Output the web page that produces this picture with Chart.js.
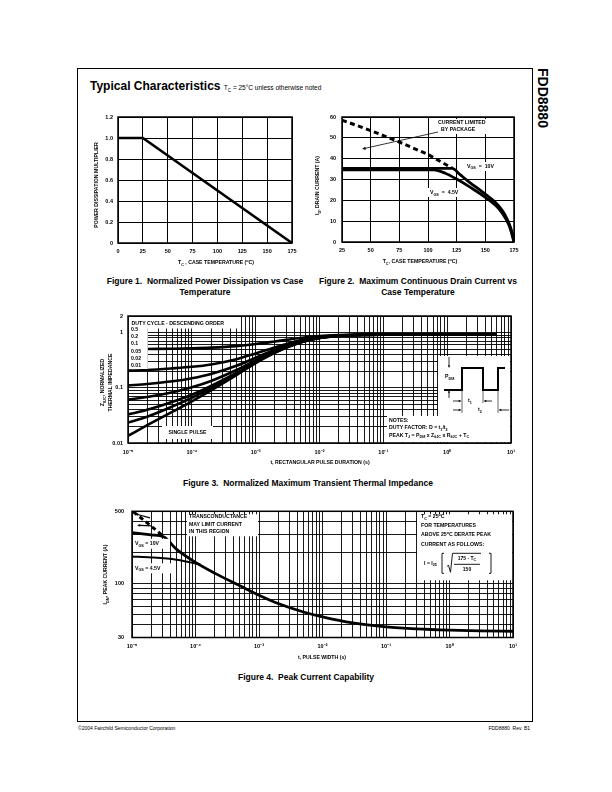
<!DOCTYPE html>
<html>
<head>
<meta charset="utf-8">
<script src="https://cdn.jsdelivr.net/npm/chart.js@4.4.1/dist/chart.umd.min.js"></script>
<style>
body { margin: 0; background: #fff; color: #000; font-family: "Liberation Sans", Arial, sans-serif; }
#page { position: relative; width: 612px; height: 792px; overflow: hidden; }
canvas { position: absolute; }
.cap { position: absolute; font-weight: bold; font-size: 8.5px; line-height: 11px; text-align: center; white-space: nowrap; }
</style>
</head>
<body>
<div id="page">
  <div style="position:absolute;left:77px;top:68px;width:454px;height:652px;border:1px solid #000"></div>
  <div style="position:absolute;left:90px;top:79px;font-weight:bold;font-size:12px;line-height:14px;white-space:nowrap">Typical Characteristics <span style="font-weight:normal;font-size:6.5px">T<sub style="font-size:4.5px">C</sub> = 25°C unless otherwise noted</span></div>
  <div style="position:absolute;left:535px;top:68px;writing-mode:vertical-rl;font-weight:bold;font-size:14px;line-height:16px">FDD8880</div>

  <canvas id="fig1"></canvas>
  <canvas id="fig2"></canvas>
  <canvas id="fig3"></canvas>
  <canvas id="fig4"></canvas>

  <div class="cap" style="left:100px;top:276px;width:210px">Figure 1.&nbsp; Normalized Power Dissipation vs Case<br>Temperature</div>
  <div class="cap" style="left:313px;top:276px;width:210px">Figure 2.&nbsp; Maximum Continuous Drain Current vs<br>Case Temperature</div>
  <div class="cap" style="left:158px;top:478px;width:300px">Figure 3.&nbsp; Normalized Maximum Transient Thermal Impedance</div>
  <div class="cap" style="left:206px;top:672px;width:200px">Figure 4.&nbsp; Peak Current Capability</div>

  <div style="position:absolute;left:78px;top:725px;font-size:5px">©2004 Fairchild Semiconductor Corporation</div>
  <div style="position:absolute;right:82px;top:725px;font-size:5px">FDD8880&nbsp; Rev. B1</div>
</div>
<script>
const FONT = '"Liberation Sans", Arial, sans-serif';

// Figure 1 - normalized power dissipation
const fig1Temp = [0, 25, 175];
const fig1Mult = [1.0, 1.0, 0];
const fig1XLabels = ['0', '25', '50', '75', '100', '125', '150', '175'];
const fig1YLabels = ['0', '0.2', '0.4', '0.6', '0.8', '1.0', '1.2'];

// Figure 2 - max continuous drain current
const fig2TempPkg = [25, 50, 75, 100, 121];
const fig2IdPkg = [58.5, 53.5, 48, 42, 35.5];
const fig2Temp10 = [25, 121, 128, 134, 148, 158, 165, 169, 172, 174, 175];
const fig2Id10 = [35.3, 35.3, 32.3, 29.6, 23.8, 19.4, 15, 11, 7, 3, 0];
const fig2Temp45 = [25, 105, 115, 125, 137, 151, 162, 168, 171, 173.5, 175];
const fig2Id45 = [34.6, 34.6, 33, 30.2, 26.2, 21, 15.8, 11, 7.5, 3, 0];
const fig2XLabels = ['25', '50', '75', '100', '125', '150', '175'];
const fig2YLabels = ['0', '10', '20', '30', '40', '50', '60'];

// Figure 3 - transient thermal impedance
const fig3Time = [1e-5, 2e-5, 5e-5, 1e-4, 2e-4, 5e-4, 1e-3, 2e-3, 5e-3, 1e-2, 2e-2, 5e-2, 1e-1, 1, 6];
const fig3Z050 = [0.50, 0.505, 0.51, 0.52, 0.535, 0.57, 0.62, 0.69, 0.80, 0.87, 0.905, 0.92, 0.925, 0.93, 0.93];
const fig3Z020 = [0.205, 0.21, 0.225, 0.24, 0.265, 0.33, 0.42, 0.54, 0.73, 0.84, 0.89, 0.915, 0.925, 0.93, 0.93];
const fig3Z010 = [0.11, 0.117, 0.131, 0.149, 0.178, 0.25, 0.35, 0.49, 0.70, 0.82, 0.88, 0.915, 0.92, 0.93, 0.93];
const fig3Z005 = [0.061, 0.068, 0.083, 0.102, 0.133, 0.21, 0.315, 0.46, 0.68, 0.81, 0.875, 0.91, 0.92, 0.93, 0.93];
const fig3Z002 = [0.033, 0.04, 0.056, 0.075, 0.108, 0.186, 0.295, 0.44, 0.67, 0.80, 0.87, 0.91, 0.92, 0.93, 0.93];
const fig3Z001 = [0.0235, 0.03, 0.046, 0.066, 0.099, 0.178, 0.29, 0.44, 0.665, 0.80, 0.87, 0.91, 0.92, 0.93, 0.93];
const fig3Zsp = [0.0135, 0.021, 0.037, 0.057, 0.09, 0.17, 0.28, 0.43, 0.66, 0.80, 0.87, 0.91, 0.92, 0.93, 0.93];
const fig3Duty = ['0.5', '0.2', '0.1', '0.05', '0.02', '0.01'];
const fig3XMajor = [1e-5, 1e-4, 1e-3, 1e-2, 1e-1, 1, 10];
const fig3XLabels = ['10⁻⁵', '10⁻⁴', '10⁻³', '10⁻²', '10⁻¹', '10⁰', '10¹'];
const fig3YMajor = [0.01, 0.1, 1, 2];
const fig3YLabels = ['0.01', '0.1', '1', '2'];

// Figure 4 - peak current capability
const fig4TimeDash = [1.05e-5, 2e-5, 3.2e-5];
const fig4IdmDash = [495, 360, 282];
const fig4Time10 = [1e-5, 2e-5, 3.2e-5, 5e-5, 1e-4, 2e-4, 5e-4, 1e-3, 2e-3, 5e-3, 1e-2, 3e-2, 1e-1, 3e-1, 1, 3, 10];
const fig4Idm10 = [310, 296, 282, 215, 160, 126, 95, 77, 64, 53, 47.5, 41.5, 38, 36.3, 35.3, 34.8, 34.5];
const fig4Time45 = [1e-5, 2e-5, 5e-5, 8e-5, 1.2e-4];
const fig4Idm45 = [183, 179, 170, 161, 152];
const fig4XMajor = [1e-5, 1e-4, 1e-3, 1e-2, 1e-1, 1, 10];
const fig4XLabels = ['10⁻⁵', '10⁻⁴', '10⁻³', '10⁻²', '10⁻¹', '10⁰', '10¹'];
const fig4YMajor = [30, 100, 500];
const fig4YLabels = ['30', '100', '500'];

// text with _{sub} and ^{sup}
function parseRich(s) {
  const parts = [];
  const re = /([_^])\{([^}]*)\}|([^_^]+)/g;
  let m;
  while ((m = re.exec(s))) {
    if (m[3]) parts.push([m[3], 0]);
    else parts.push([m[2], m[1] === '_' ? 1 : -1]);
  }
  return parts;
}

function rich(ctx, s, x, y, size, align, rot) {
  const parts = parseRich(s);
  ctx.save();
  ctx.translate(x, y);
  if (rot) ctx.rotate(rot);
  ctx.fillStyle = '#000';
  ctx.textBaseline = 'middle';
  ctx.textAlign = 'left';
  const fonts = parts.map(p => 'bold ' + (p[1] ? size * 0.72 : size) + 'px ' + FONT);
  const ws = parts.map((p, i) => { ctx.font = fonts[i]; return ctx.measureText(p[0]).width; });
  const tot = ws.reduce((a, b) => a + b, 0);
  let cx = align === 'center' ? -tot / 2 : align === 'right' ? -tot : 0;
  parts.forEach((p, i) => {
    ctx.font = fonts[i];
    ctx.fillText(p[0], cx, p[1] * size * 0.32);
    cx += ws[i];
  });
  ctx.restore();
}

function wbox(ctx, x, y, w, h) {
  ctx.fillStyle = '#fff';
  ctx.fillRect(x, y, w, h);
}

function arrow(ctx, x1, y1, x2, y2, head, lw) {
  const ang = Math.atan2(y2 - y1, x2 - x1);
  ctx.save();
  ctx.strokeStyle = '#000';
  ctx.fillStyle = '#000';
  ctx.lineWidth = lw || 0.8;
  ctx.beginPath();
  ctx.moveTo(x1, y1);
  ctx.lineTo(x2 - Math.cos(ang) * head * 0.8, y2 - Math.sin(ang) * head * 0.8);
  ctx.stroke();
  ctx.beginPath();
  ctx.moveTo(x2, y2);
  ctx.lineTo(x2 - head * Math.cos(ang - 0.4), y2 - head * Math.sin(ang - 0.4));
  ctx.lineTo(x2 - head * Math.cos(ang + 0.4), y2 - head * Math.sin(ang + 0.4));
  ctx.closePath();
  ctx.fill();
  ctx.restore();
}

function frame(ctx, a) {
  ctx.save();
  ctx.strokeStyle = '#000';
  ctx.lineWidth = 1.5;
  ctx.strokeRect(a.left, a.top, a.right - a.left, a.bottom - a.top);
  ctx.restore();
}

function pts(xs, ys) {
  return xs.map((x, i) => ({ x: x, y: ys[i] }));
}

function line(xs, ys, width, dash, smooth) {
  return {
    data: pts(xs, ys),
    showLine: true,
    borderColor: '#000',
    borderWidth: width,
    borderDash: dash || [],
    pointRadius: 0,
    fill: false,
    tension: 0,
    cubicInterpolationMode: smooth ? 'monotone' : 'default'
  };
}

function tickFont() {
  return { family: FONT, size: 5.5, weight: 'bold' };
}

function linAxis(min, max, step, labels, pad) {
  return {
    type: 'linear', min: min, max: max,
    grid: { color: '#000', lineWidth: 1, drawTicks: false },
    border: { display: false },
    ticks: {
      stepSize: step, autoSkip: false, maxRotation: 0, padding: pad,
      color: '#000', font: tickFont(),
      callback: (v, i) => labels[i]
    }
  };
}

function logTicks(min, max) {
  const out = [];
  for (let e = Math.floor(Math.log10(min)); e <= Math.ceil(Math.log10(max)); e++) {
    for (let m = 1; m < 10; m++) {
      const v = m * Math.pow(10, e);
      if (v >= min * 0.999 && v <= max * 1.001) out.push(v);
    }
  }
  return out;
}

function logAxis(min, max, major, labels, pad) {
  const all = logTicks(min, max);
  return {
    type: 'logarithmic', min: min, max: max,
    afterBuildTicks: s => { s.ticks = all.map(v => ({ value: v })); },
    grid: { color: '#000', lineWidth: 0.9, drawTicks: false },
    border: { display: false },
    ticks: {
      autoSkip: false, maxRotation: 0, minRotation: 0, padding: pad,
      color: '#000', font: tickFont(),
      callback: v => {
        const i = major.findIndex(m => Math.abs(m - v) / m < 1e-6);
        return i < 0 ? '' : labels[i];
      }
    }
  };
}

function makeChart(id, box, xScale, yScale, datasets, deco) {
  const cv = document.getElementById(id);
  cv.width = box.w;
  cv.height = box.h;
  cv.style.left = box.x + 'px';
  cv.style.top = box.y + 'px';
  cv.style.width = box.w + 'px';
  cv.style.height = box.h + 'px';
  xScale.afterFit = s => { s.height = box.xH; };
  yScale.afterFit = s => { s.width = box.yW; };
  return new Chart(cv, {
    type: 'scatter',
    data: { datasets: datasets },
    options: {
      responsive: false,
      animation: false,
      events: [],
      layout: { padding: { top: box.pt, right: box.pr, left: 0, bottom: 0 } },
      plugins: { legend: { display: false }, tooltip: { enabled: false } },
      scales: { x: xScale, y: yScale }
    },
    plugins: [{
      id: 'deco',
      afterDatasetsDraw(chart) {
        deco(chart.ctx, chart.chartArea);
        frame(chart.ctx, chart.chartArea);
      }
    }]
  });
}

// ---------- Figure 1
makeChart('fig1',
  { x: 85, y: 105, w: 225, h: 170, pt: 12, pr: 18, yW: 33, xH: 32 },
  linAxis(0, 175, 25, fig1XLabels, 5),
  linAxis(0, 1.2, 0.2, fig1YLabels, 5),
  [line(fig1Temp, fig1Mult, 2.6)],
  (ctx, a) => {
    const L = a.left, T = a.top, B = a.bottom;
    rich(ctx, 'POWER DISSIPATION MULTIPLIER', L - 21, (T + B) / 2 + 5, 5.2, 'center', -Math.PI / 2);
    rich(ctx, 'T_{C} , CASE TEMPERATURE (^{o}C)', L + 98, B + 20, 5.2, 'center');
  });

// ---------- Figure 2
makeChart('fig2',
  { x: 312, y: 105, w: 218, h: 170, pt: 12, pr: 16, yW: 30, xH: 33 },
  linAxis(25, 175, 25, fig2XLabels, 5),
  linAxis(0, 60, 10, fig2YLabels, 6),
  [
    line(fig2TempPkg, fig2IdPkg, 3, [5, 3.5]),
    line(fig2Temp10, fig2Id10, 2.8, null, true),
    line(fig2Temp45, fig2Id45, 2.8, null, true)
  ],
  (ctx, a) => {
    const L = a.left, T = a.top, B = a.bottom;
    rich(ctx, 'I_{D}, DRAIN CURRENT (A)', L - 24, (T + B) / 2 + 6, 5.2, 'center', -Math.PI / 2);
    rich(ctx, 'T_{C}, CASE TEMPERATURE (^{o}C)', L + 78, B + 20, 5.2, 'center');
    wbox(ctx, L + 93, T + 2, 60, 15);
    rich(ctx, 'CURRENT LIMITED', L + 96, T + 6, 5.2, 'left');
    rich(ctx, 'BY PACKAGE', L + 99, T + 12.5, 5.2, 'left');
    arrow(ctx, L + 96, T + 15, L + 20, T + 32, 4, 0.8);
    wbox(ctx, L + 123, T + 45, 36, 9);
    rich(ctx, 'V_{GS}  =  10V', L + 125, T + 49.5, 5.2, 'left');
    wbox(ctx, L + 86, T + 71, 38, 9);
    rich(ctx, 'V_{GS}  =  4.5V', L + 88, T + 76, 5.2, 'left');
  });

// ---------- Figure 3
makeChart('fig3',
  { x: 95, y: 306, w: 430, h: 165, pt: 10, pr: 14, yW: 33, xH: 28 },
  logAxis(1e-5, 10, fig3XMajor, fig3XLabels, 6),
  logAxis(0.01, 2, fig3YMajor, fig3YLabels, 5),
  [
    line(fig3Time, fig3Z050, 2.6, null, true),
    line(fig3Time, fig3Z020, 2.6, null, true),
    line(fig3Time, fig3Z010, 2.6, null, true),
    line(fig3Time, fig3Z005, 2.6, null, true),
    line(fig3Time, fig3Z002, 2.6, null, true),
    line(fig3Time, fig3Z001, 2.6, null, true),
    line(fig3Time, fig3Zsp, 2.6, null, true)
  ],
  (ctx, a) => {
    const L = a.left, T = a.top, R = a.right, B = a.bottom;
    rich(ctx, 'Z_{θJC}, NORMALIZED', L - 25, (T + B) / 2 + 3, 5.2, 'center', -Math.PI / 2);
    rich(ctx, 'THERMAL IMPEDANCE', L - 17, (T + B) / 2 + 3, 5.2, 'center', -Math.PI / 2);
    rich(ctx, 't, RECTANGULAR PULSE DURATION (s)', L + 192, B + 20, 5.2, 'center');
    // duty cycle legend
    wbox(ctx, L + 0.8, T + 1, 111, 11.5);
    rich(ctx, 'DUTY CYCLE - DESCENDING ORDER', L + 3.5, T + 8, 5.2, 'left');
    wbox(ctx, L + 0.8, T + 11, 19, 42);
    const ly = [14, 20.7, 27.7, 36, 43, 50];
    fig3Duty.forEach((d, i) => rich(ctx, d, L + 3, T + ly[i], 5.2, 'left'));
    wbox(ctx, L + 34, B - 17, 51, 13);
    rich(ctx, 'SINGLE PULSE', L + 59.5, B - 10, 5.2, 'center');
    // pulse diagram and notes
    wbox(ctx, R - 73, B - 87, 72.2, 60);
    wbox(ctx, R - 124, B - 27, 123.2, 26.2);
    rich(ctx, 'NOTES:', R - 122, B - 22.5, 5.2, 'left');
    rich(ctx, 'DUTY FACTOR: D = t_{1}/t_{2}', R - 122, B - 15, 5.2, 'left');
    rich(ctx, 'PEAK T_{J} = P_{DM} x Z_{θJC} x R_{θJC} + T_{C}', R - 122, B - 7.5, 5.2, 'left');
    const lo = B - 53, hi = B - 75;
    ctx.save();
    ctx.strokeStyle = '#000';
    ctx.lineWidth = 2;
    ctx.beginPath();
    ctx.moveTo(R - 67, lo);
    ctx.lineTo(R - 49, lo);
    ctx.lineTo(R - 49, hi);
    ctx.lineTo(R - 28, hi);
    ctx.lineTo(R - 28, lo);
    ctx.lineTo(R - 13, lo);
    ctx.lineTo(R - 13, hi);
    ctx.lineTo(R - 6, hi);
    ctx.stroke();
    ctx.lineWidth = 0.6;
    ctx.beginPath();
    ctx.moveTo(R - 28, lo); ctx.lineTo(R - 28, B - 40);
    ctx.moveTo(R - 13, lo); ctx.lineTo(R - 13, B - 30);
    ctx.moveTo(R - 49, lo); ctx.lineTo(R - 49, B - 30);
    ctx.stroke();
    ctx.restore();
    rich(ctx, 'P_{DM}', R - 66, B - 66, 5.2, 'left');
    arrow(ctx, R - 62, B - 86, R - 62, hi, 3, 0.8);
    arrow(ctx, R - 62, B - 45, R - 62, lo, 3, 0.8);
    arrow(ctx, R - 58, B - 42, R - 49.5, B - 42, 3, 0.8);
    arrow(ctx, R - 19, B - 42, R - 27.5, B - 42, 3, 0.8);
    rich(ctx, 't_{1}', R - 41, B - 42, 5.2, 'center');
    arrow(ctx, R - 58, B - 33, R - 49.5, B - 33, 3, 0.8);
    arrow(ctx, R - 2, B - 33, R - 12.5, B - 33, 3, 0.8);
    rich(ctx, 't_{2}', R - 31, B - 33, 5.2, 'center');
  });

// ---------- Figure 4
makeChart('fig4',
  { x: 100, y: 500, w: 425, h: 164, pt: 10, pr: 12, yW: 32, xH: 26.5 },
  logAxis(1e-5, 10, fig4XMajor, fig4XLabels, 6),
  logAxis(30, 500, fig4YMajor, fig4YLabels, 8),
  [
    line(fig4TimeDash, fig4IdmDash, 3, [4.5, 3.5]),
    line(fig4Time10, fig4Idm10, 2.8, null, true),
    line(fig4Time45, fig4Idm45, 2, null, true)
  ],
  (ctx, a) => {
    const L = a.left, T = a.top, R = a.right, B = a.bottom;
    rich(ctx, 'I_{DM}, PEAK CURRENT (A)', L - 26, (T + B) / 2, 5.2, 'center', -Math.PI / 2);
    rich(ctx, 't, PULSE WIDTH (s)', L + 190, B + 20.5, 5.2, 'center');
    wbox(ctx, L + 55, T + 3, 71, 22);
    rich(ctx, 'TRANSCONDUCTANCE', L + 57, T + 5.5, 5.2, 'left');
    rich(ctx, 'MAY LIMIT CURRENT', L + 57, T + 13.3, 5.2, 'left');
    rich(ctx, 'IN THIS REGION', L + 57, T + 20.5, 5.2, 'left');
    arrow(ctx, L + 18, T + 6.5, L + 3, T + 2.5, 3.5, 1.2);
    arrow(ctx, L + 20, T + 14.5, L + 5, T + 14, 3.5, 1.2);
    wbox(ctx, L + 1, T + 27.5, 37, 10);
    rich(ctx, 'V_{GS} = 10V', L + 3, T + 32.5, 5.2, 'left');
    wbox(ctx, L + 1, T + 52, 40, 10);
    rich(ctx, 'V_{GS} = 4.5V', L + 3, T + 57, 5.2, 'left');
    // derating note
    wbox(ctx, R - 96, T + 3, 95.2, 66);
    rich(ctx, 'T_{C} = 25^{o}C', R - 92, T + 5.5, 5.2, 'left');
    rich(ctx, 'FOR TEMPERATURES', R - 92, T + 14, 5.2, 'left');
    rich(ctx, 'ABOVE 25^{o}C DERATE PEAK', R - 92, T + 23.5, 5.2, 'left');
    rich(ctx, 'CURRENT AS FOLLOWS:', R - 92, T + 33, 5.2, 'left');
    rich(ctx, 'I = I_{25}', R - 89, T + 52, 5.2, 'left');
    ctx.save();
    ctx.strokeStyle = '#000';
    ctx.lineWidth = 0.9;
    ctx.beginPath();
    ctx.moveTo(R - 69, T + 42); ctx.lineTo(R - 71, T + 42); ctx.lineTo(R - 71, T + 62); ctx.lineTo(R - 69, T + 62);
    ctx.moveTo(R - 24, T + 42); ctx.lineTo(R - 22, T + 42); ctx.lineTo(R - 22, T + 62); ctx.lineTo(R - 24, T + 62);
    ctx.moveTo(R - 66, T + 55); ctx.lineTo(R - 64.5, T + 54); ctx.lineTo(R - 62.5, T + 61);
    ctx.lineTo(R - 60.5, T + 42); ctx.lineTo(R - 32, T + 42);
    ctx.moveTo(R - 59, T + 53); ctx.lineTo(R - 33, T + 53);
    ctx.stroke();
    ctx.restore();
    rich(ctx, '175 - T_{C}', R - 46, T + 47.5, 5, 'center');
    rich(ctx, '150', R - 46, T + 58, 5, 'center');
  });
</script>
</body>
</html>
